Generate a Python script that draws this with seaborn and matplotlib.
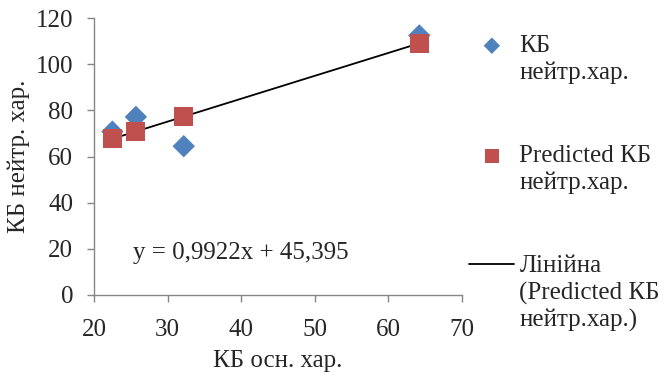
import matplotlib
matplotlib.use('Agg')
import matplotlib.pyplot as plt
import seaborn as sns
import pandas as pd

# values
kb_osn = [22.5, 25.7, 32.2, 64.2]
kb_neitr = [70.8, 77.2, 64.5, 112.5]
kb_predicted = [67.7, 70.9, 77.3, 109.1]
equation = 'y = 0,9922x + 45,395'

x_ticks = [20, 30, 40, 50, 60, 70]
y_ticks = [0, 20, 40, 60, 80, 100, 120]

blue = '#4F81BD'
red = '#C0504D'
grey = '#868686'
fs = 18

df = pd.DataFrame({'x': kb_osn, 'y': kb_neitr, 'pred': kb_predicted})

sns.set_style('white')
plt.rcParams['font.family'] = ['Liberation Serif', 'DejaVu Serif']
plt.rcParams['font.size'] = fs

fig = plt.figure(figsize=(6.71, 3.78), dpi=100)
ax = fig.add_axes([0.140, 0.2196, 0.5485, 0.7324])

sns.regplot(x='x', y='pred', data=df, ax=ax, ci=None, scatter=False,
            line_kws={'color': 'black', 'lw': 1.3},
            label='Лінійна\n(Predicted КБ\nнейтр.хар.)')
sns.scatterplot(x='x', y='y', data=df, ax=ax, marker='D', s=130, color=blue,
                edgecolor='none', label='КБ\nнейтр.хар.', zorder=3)
sns.scatterplot(x='x', y='pred', data=df, ax=ax, marker='s', s=185, color=red,
                edgecolor='none', label='Predicted КБ\nнейтр.хар.', zorder=4)

ax.set_xlim(20, 70)
ax.set_ylim(0, 120)
ax.set_xticks(x_ticks)
ax.set_yticks(y_ticks)
ax.set_xlabel('КБ осн. хар.', fontsize=fs, labelpad=7)
ax.set_ylabel('КБ нейтр. хар.', fontsize=fs, labelpad=4)
ax.tick_params(axis='both', direction='out', length=5, width=1, color=grey,
               labelsize=fs, left=True, bottom=True)
ax.tick_params(axis='x', pad=12)
ax.tick_params(axis='y', pad=10)

for side in ['top', 'right']:
    ax.spines[side].set_visible(False)
for side in ['left', 'bottom']:
    ax.spines[side].set_color(grey)
    ax.spines[side].set_linewidth(1)

ax.text(25.3, 18.0, equation, fontsize=fs, va='center', ha='left')

handles, labels = ax.get_legend_handles_labels()
order = [labels.index('КБ\nнейтр.хар.'), labels.index('Predicted КБ\nнейтр.хар.'),
         labels.index('Лінійна\n(Predicted КБ\nнейтр.хар.)')]
leg = ax.legend([handles[i] for i in order], [labels[i] for i in order],
                loc='upper left', bbox_to_anchor=(1.02, 0.94), frameon=False,
                fontsize=fs, labelspacing=2.45, handlelength=1.8,
                handletextpad=0.2, borderaxespad=0, borderpad=0)
for t in leg.get_texts():
    t.set_linespacing(1.25)
# markers in the legend are smaller, and sit by the first text line
leg.legend_handles[0].set_sizes([70])
leg.legend_handles[1].set_sizes([110])
for col in leg._legend_handle_box.get_children():
    for row in col.get_children():
        row.align = 'top'

fig.savefig('out.png', dpi=100)
